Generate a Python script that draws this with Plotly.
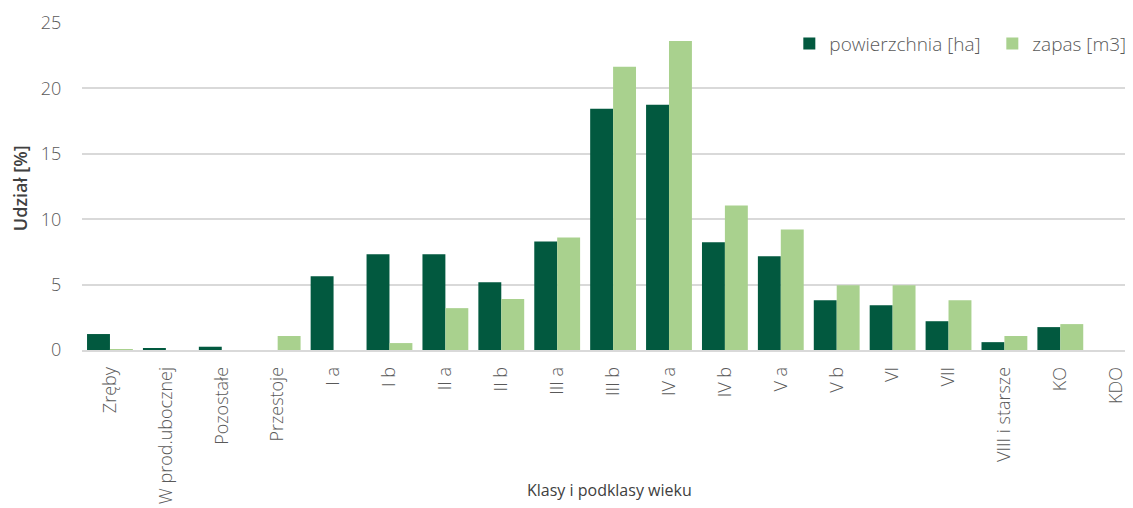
import plotly.graph_objects as go

categories = ["Zręby", "W prod.ubocznej", "Pozostałe", "Przestoje", "I a", "I b", "II a", "II b",
              "III a", "III b", "IV a", "IV b", "V a", "V b", "VI", "VII", "VIII i starsze", "KO", "KDO"]
powierzchnia = [1.22, 0.1, 0.25, 0.0, 5.64, 7.32, 7.32, 5.18, 8.3, 18.44, 18.75, 8.23, 7.16, 3.81,
                3.43, 2.2, 0.6, 1.75, 0.0]
zapas = [0.05, 0.0, 0.0, 1.07, 0.0, 0.53, 3.2, 3.89, 8.6, 21.65, 23.63, 11.05, 9.22, 4.95,
         4.95, 3.81, 1.07, 1.98, 0.0]
y_ticks = [0, 5, 10, 15, 20, 25]

DARK = "#02593F"
LIGHT = "#A9D18E"
FONT = "Open Sans"
GREY = "#595959"

fig = go.Figure()
fig.add_trace(go.Bar(x=categories, y=powierzchnia, name="powierzchnia [ha]",
                     marker=dict(color=DARK, line=dict(width=0))))
fig.add_trace(go.Bar(x=categories, y=zapas, name="zapas [m3]",
                     marker=dict(color=LIGHT, line=dict(width=0))))

fig.update_layout(
    width=1125, height=500,
    margin=dict(l=74, r=0, t=15, b=158, autoexpand=False),
    paper_bgcolor="white", plot_bgcolor="white",
    barmode="group", bargap=0.18, bargroupgap=0.0,
    font=dict(family=FONT, size=18, color=GREY, weight=300),
    showlegend=True,
    legend=dict(orientation="h", x=0.673, y=0.937, xanchor="left", yanchor="middle",
                bgcolor="rgba(0,0,0,0)", font=dict(size=19, color=GREY, family=FONT, weight=300),
                itemwidth=30, entrywidth=158, traceorder="normal"),
    xaxis=dict(type="category", range=[-0.5, 18.3], showgrid=False,
               showline=True, linecolor="#D9D9D9", linewidth=1.5,
               tickangle=-90, ticks="outside", ticklen=8, tickcolor="rgba(0,0,0,0)",
               tickfont=dict(size=18, color=GREY, family=FONT, weight=300), automargin=False),
    yaxis=dict(range=[0, 25], tickvals=y_ticks, showgrid=True, gridcolor="#D9D9D9", gridwidth=1.5,
               zeroline=False, showline=False,
               ticks="outside", ticklen=16, tickcolor="rgba(0,0,0,0)",
               tickfont=dict(size=18, color=GREY, family=FONT, weight=300), automargin=False),
)

fig.add_annotation(text="Udział [%]", xref="paper", yref="paper", x=-0.059, y=0.495,
                   textangle=-90, showarrow=False, xanchor="center", yanchor="middle",
                   font=dict(size=18, color="#404040", family=FONT, weight=600))
fig.add_annotation(text="Klasy i podklasy wieku", xref="paper", yref="paper", x=0.502, y=-0.428,
                   showarrow=False, xanchor="center", yanchor="middle",
                   font=dict(size=16, color="#404040", family=FONT, weight=400))

fig.write_html("out.html")
